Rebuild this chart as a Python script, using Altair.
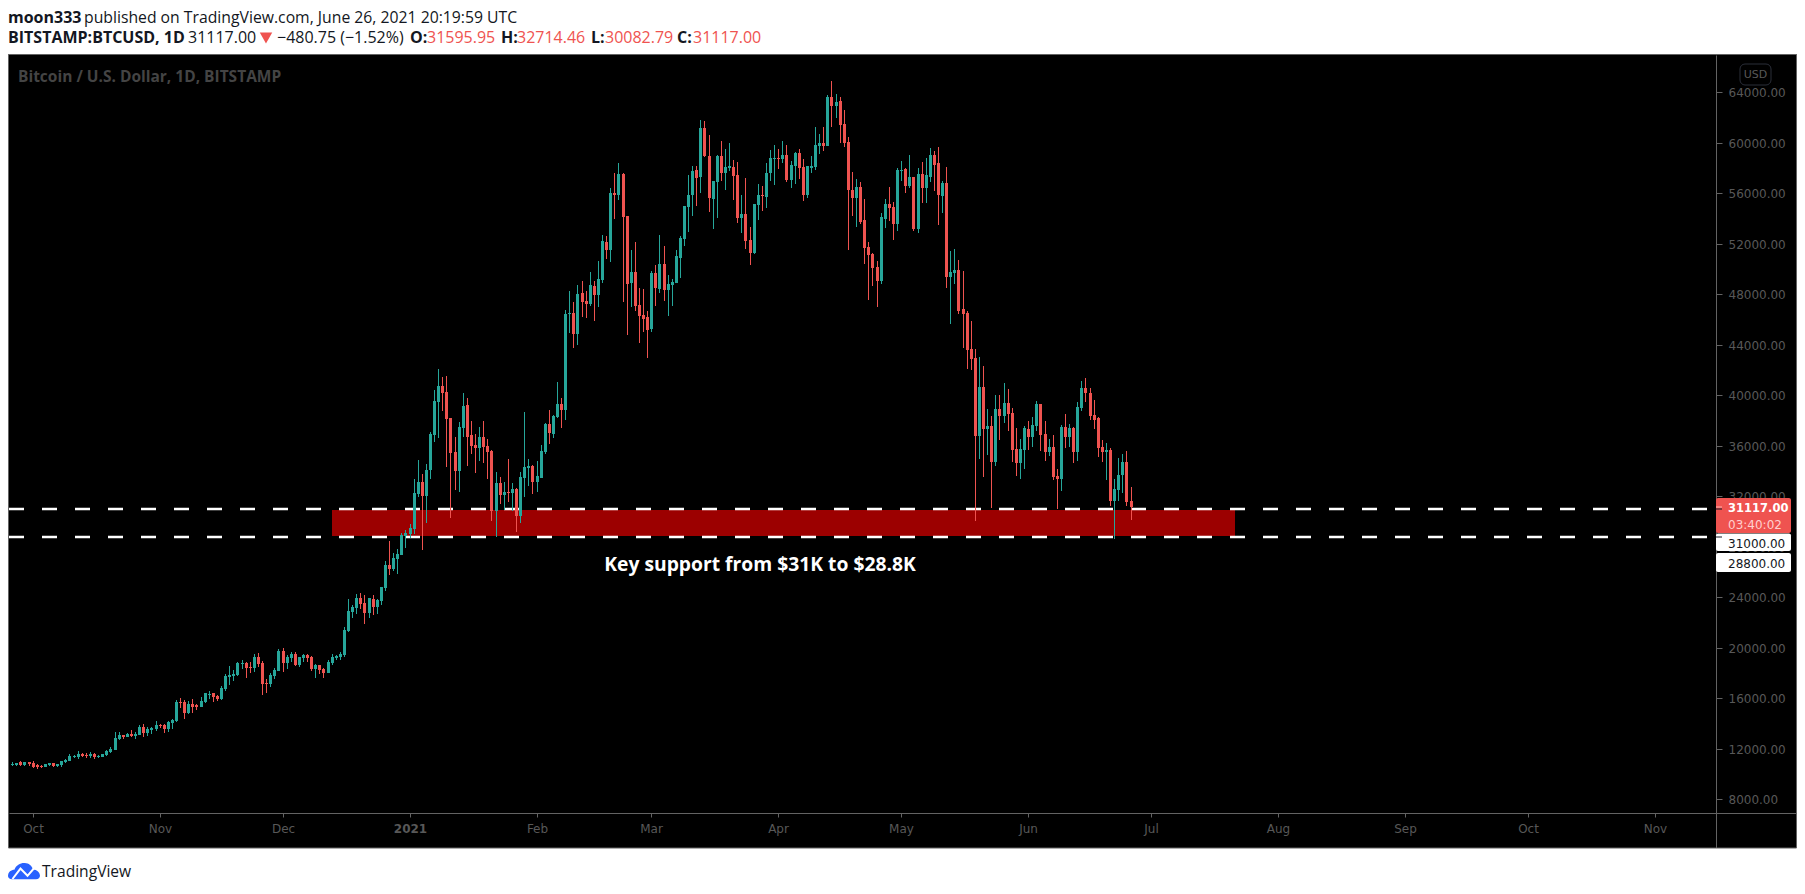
import altair as alt
import pandas as pd

# ---------- chart values ----------
opens = [10690,
 10730,10700,10910,10730,10940,10860,10700,10620,10540,10700,
 10830,10620,10700,10940,11010,11330,11330,11570,11490,11410,
 11570,11330,11330,11490,11730,11890,12760,13070,12920,13150,
 12990,13070,13710,13230,13470,13550,13870,13870,13550,14030,
 14180,15690,15690,14820,15530,15450,15290,15690,16240,16400,
 16160,15930,16720,17670,17750,17830,18700,18780,18460,18380,
 19250,18780,17200,17120,17750,18150,19730,18780,19180,19490,
 18620,19180,19410,19250,18300,18620,18300,17990,18780,19180,
 19250,19410,21310,22820,23140,23930,23530,22740,23850,23220,
 23690,24720,26550,26230,27020,27340,28840,29000,29400,32170,
 33120,32010,34070,36850,39460,40730,40250,38190,35500,33990,
 37400,39220,36850,36050,35820,36690,35970,35580,30820,33040,
 32090,32330,32250,32570,30430,33440,34230,34390,33120,33440,
 35500,37720,36920,38270,39300,38830,46430,46510,44850,48100,
 47470,47230,48650,47940,49130,52140,51510,56020,55860,57530,
 54200,48890,49760,47150,46360,46200,45250,49680,48410,50400,
 48340,48730,48890,50870,52380,54910,55860,57840,57290,61170,
 58950,55550,56890,58950,57610,58000,58080,57450,54040,54360,
 52300,51270,55070,55860,55700,57610,58720,58800,58720,59030,
 57050,58160,59190,58080,55860,58000,58080,59750,59980,59750,
 63630,62910,63310,61490,60060,56260,55630,56500,53880,51740,
 51190,50160,49050,53960,55150,54910,53570,57770,57920,56580,
 57290,53170,57530,56420,57290,59030,58400,55780,56810,49370,
 49680,49920,46830,46510,43660,42950,36770,40650,37320,37560,
 34710,38910,38350,39380,38590,35740,34630,35660,37320,36690,
 37560,39300,36920,35500,35890,33600,33360,37480,36690,37400,
 35500,38980,40570,40170,38430,38190,35890,35500,35660,31620,
 32490,33680,34710,31596]
closes = [10730,
 10780,10830,10730,10940,10780,10570,10510,10570,10750,10830,
 10620,10750,11010,11090,11410,11410,11570,11410,11410,11570,
 11330,11410,11570,11810,11960,12840,13070,12920,13150,12990,
 13150,13710,13230,13550,13630,13870,13790,13550,14100,14260,
 15690,15640,14820,15530,15290,15290,15770,16400,16300,16090,
 15930,16800,17750,17830,17910,18780,18780,18380,18380,19250,
 18700,17120,17120,17830,18220,19730,18780,19250,19490,18620,
 19250,19410,19180,18300,18620,18220,17990,18860,19250,19330,
 19490,21390,22900,23220,23930,23450,22740,23930,23220,23770,
 24800,26540,26230,27070,27390,28920,29080,29480,32250,33120,
 32010,34070,36920,39540,40730,40170,38110,35420,33990,37480,
 39140,36690,35970,35820,36690,35890,35500,30820,33040,32090,
 32330,32250,32570,30430,33520,34310,34390,33120,33600,35580,
 37720,37000,38350,39300,38830,46440,46510,44850,48020,47380,
 47230,48730,47940,49210,52220,51510,56020,55860,57530,54120,
 48810,49760,47070,46280,46040,45170,49680,48490,50400,48340,
 48810,48970,51030,52460,54990,55860,57760,57210,61170,58950,
 55630,56970,58950,57610,58080,58160,57370,54040,54360,52220,
 51270,55150,55860,55780,57610,58800,58800,58720,59030,57050,
 58240,59190,58000,55860,58160,58160,59820,59980,59750,63630,
 62910,63230,61410,59980,56260,55630,56500,53720,51660,51110,
 50080,49050,54120,55150,54830,53570,57840,57840,56580,57290,
 53170,57530,56420,57450,59030,58240,55870,56810,49370,49760,
 49920,46670,46430,43580,42870,36770,40650,37320,37560,34710,
 38910,38350,39380,38510,35660,34630,35740,37400,36690,37640,
 39300,36850,35500,35890,33520,33360,37480,36690,37400,35500,
 39060,40570,40170,38350,38030,35820,35500,35660,31620,32570,
 33680,34710,31540,31117]
highs = [10780,
 10940,10860,11010,10940,10940,11010,10780,10700,10780,10860,
 10860,10780,11010,11170,11540,11490,11810,11650,11650,11730,
 11650,11490,11570,11890,12120,13310,13310,13070,13230,13470,
 13310,13870,13950,13710,13710,14180,13950,13950,14180,14340,
 15850,16010,15850,15770,15930,15530,16090,16400,16560,16400,
 16240,16960,17910,18540,18220,18860,19020,18860,18860,19490,
 19570,18940,17510,17990,18380,19890,19970,19410,19650,19650,
 19250,19490,19490,19330,18700,18620,18380,19020,19490,19410,
 19650,21630,23850,23370,24250,24330,24170,23930,24170,23850,
 24800,26860,28450,27470,27810,29080,29320,29790,33360,34860,
 33760,34550,37080,40410,42070,41440,41520,38190,36690,37870,
 40170,39780,37950,36920,37480,37950,36530,35660,33910,33520,
 33120,34940,33040,32650,33910,38670,34940,34470,34790,36050,
 37800,38830,38430,41040,39780,46750,48260,47380,48730,49050,
 48260,49760,49050,50630,52690,52620,56420,57610,58400,57610,
 54200,51510,52140,48490,48410,46670,49840,50320,52690,51820,
 49520,49210,51510,52600,54990,57450,58160,58160,61810,61730,
 60620,56970,59030,60140,59510,59980,58640,58480,55860,57210,
 53330,55150,56740,56580,58400,59430,59820,59510,60140,59820,
 58560,59270,59510,58720,58160,58950,61250,60700,61250,63790,
 64900,63870,63630,62600,60460,57690,57130,56890,55550,52140,
 51270,50630,54440,55550,56500,55310,58000,58560,58000,59030,
 57290,58000,58480,58790,59590,59350,59670,56970,58080,51430,
 51580,50710,49840,46670,45880,43660,43030,42310,38910,38350,
 40010,40010,40970,40490,38980,37400,36530,37560,37950,38270,
 39540,39300,37950,36530,36850,34150,37640,38510,37720,37480,
 39460,41120,41360,40570,39620,38270,36450,36210,35820,33360,
 35020,35340,35580,32714]
lows = [10620,
 10620,10620,10620,10620,10620,10460,10410,10460,10540,10620,
 10540,10540,10540,10860,11010,11250,11170,11330,11250,11250,
 11170,11250,11330,11410,11650,11890,12680,12760,12920,12920,
 12760,13070,12920,12990,13150,13390,13630,13230,13310,13550,
 14100,15210,14340,14740,14820,15060,15290,15610,15930,15690,
 15770,15850,16560,17040,17350,17750,18300,17590,17990,18070,
 18460,16240,16400,16880,17490,18150,18070,18300,18860,18540,
 18460,18860,18860,18150,17590,17910,17590,17990,18620,19020,
 19020,19250,21240,22340,22660,23060,21870,22340,22580,22660,
 23370,24480,25750,26070,25830,27340,27890,28680,29000,31930,
 27740,29870,33360,36290,36610,38750,34310,30270,32490,32330,
 36690,34390,35340,33830,34790,34630,33360,30030,28760,31380,
 30900,31500,30820,29160,29870,31930,32800,32170,32330,33440,
 35340,36130,36610,38190,37400,38030,44930,43740,43980,46200,
 46120,47070,45880,46990,48890,50790,50550,53960,55470,47380,
 44770,46990,46670,44140,45010,42950,45010,47070,48100,47470,
 46280,47070,48890,49290,51820,52930,54200,54990,56020,58870,
 54520,53170,54040,56970,56260,57760,55470,53650,52850,51590,
 50320,51190,53880,54600,54830,56970,56660,57920,58400,56890,
 56420,56740,57130,55390,55630,57610,57840,59110,59350,59750,
 61250,61960,59980,59670,51510,54200,53330,53570,50400,47550,
 48650,46990,48810,53250,53800,52300,53010,56970,56020,56420,
 53010,52850,55230,55230,56890,56180,53490,54440,48500,45640,
 48810,46430,43740,42080,41990,30030,34940,33520,35260,31060,
 34390,36450,37800,37160,34710,33600,33360,34150,35660,35890,
 37160,35580,34790,35180,33280,30980,32410,35820,35890,34630,
 34790,38750,39460,38030,37320,35100,34710,33280,31220,28610,
 31620,32250,31220,30083]
first_day = -6  # days counted from 1 Oct 2020
price_ticks = [8000 + 4000 * i for i in range(15)]
month_days = [0, 31, 61, 92, 123, 151, 182, 212, 243, 273, 304, 335, 365, 396]
month_labels = ["Oct", "Nov", "Dec", "2021", "Feb", "Mar", "Apr", "May", "Jun", "Jul", "Aug", "Sep", "Oct", "Nov"]
support_levels = [31000, 28800]
band = dict(day=73.0, day2=293.6, top=30900, bottom=28850)

# ---------- palette ----------
GREEN, RED = "#26a69a", "#ef5350"
AXIS_GRAY, LABEL_GRAY = "#636363", "#585858"
FONT, AXFONT = "Open Sans", "DejaVu Sans"

W, H = 1707, 758
xs = alt.Scale(domain=[-5.76, 410.9], range=[0, W], round=True, nice=False, zero=False)
ys = alt.Scale(domain=[6892, 66956], range=[H, 0], round=True, nice=False, zero=False)

label_expr = "{" + ",".join(f"'{d}':'{l}'" for d, l in zip(month_days, month_labels)) + "}[''+datum.value]"
x_axis = alt.Axis(values=month_days, labelExpr=label_expr, title=None, grid=False, domainColor=AXIS_GRAY,
                  tickColor=AXIS_GRAY, tickSize=4, labelColor=LABEL_GRAY, labelFont=AXFONT, labelFontSize=12,
                  labelPadding=6, labelFontWeight=alt.expr("datum.value==92?'bold':'normal'"), labelOverlap=False)
y_axis = alt.Axis(orient="right", values=price_ticks, format=".2f", title=None, grid=False, domainColor=AXIS_GRAY,
                  tickColor=AXIS_GRAY, tickSize=6, labelColor=LABEL_GRAY, labelFont=AXFONT, labelFontSize=12,
                  labelPadding=6, labelOverlap=False)
X = lambda f: alt.X(f, type="quantitative", scale=xs, axis=x_axis)
Y = lambda f: alt.Y(f, type="quantitative", scale=ys, axis=y_axis)

candles = pd.DataFrame({"open": opens, "high": highs, "low": lows, "close": closes})
candles["day"] = range(first_day, first_day + len(candles))
colour = alt.condition("datum.close >= datum.open", alt.value(GREEN), alt.value(RED))

one = pd.DataFrame({"a": [0]})


def txt(text, x, y, size=16, color="#131722", weight="normal", font=FONT, align="left"):
    return alt.Chart(one).mark_text(text=text, fontSize=size, color=color, fontWeight=weight, font=font,
                                    align=align, baseline="middle").encode(x=alt.value(x), y=alt.value(y))


def box(x, x2, y, y2, fill, **kw):
    return alt.Chart(one).mark_rect(fill=fill, **kw).encode(x=alt.value(x), x2=alt.value(x2), y=alt.value(y), y2=alt.value(y2))


layers = []
# support band
layers.append(alt.Chart(pd.DataFrame([band])).mark_rect(fill="#9c0000").encode(
    x=X("day"), x2=alt.X2("day2"), y=Y("top"), y2=alt.Y2("bottom")))
# dashed levels
layers.append(alt.Chart(pd.DataFrame({"p": support_levels})).mark_rule(color="#ffffff", strokeWidth=2.5, strokeDash=[15, 18]).encode(
    y=Y("p"), x=alt.value(0), x2=alt.value(W)))
# candles
layers.append(alt.Chart(candles).mark_rule(strokeWidth=1, xOffset=0.5, clip=True).encode(
    x=X("day"), y=Y("high"), y2=alt.Y2("low"), color=colour))
layers.append(alt.Chart(candles).mark_rule(strokeWidth=3, xOffset=0.5, clip=True).encode(
    x=X("day"), y=Y("open"), y2=alt.Y2("close"), color=colour))
# annotation
layers.append(alt.Chart(pd.DataFrame({"day": [177.6], "p": [26520]})).mark_text(
    text="Key support from $31K to $28.8K", color="#ffffff", fontSize=19.3, fontWeight="bold", font=FONT,
    align="center", baseline="middle").encode(x=X("day"), y=Y("p")))
# watermark
layers.append(txt("Bitcoin / U.S. Dollar, 1D, BITSTAMP", 9, 22, size=15.5, color="#444444", weight="bold"))
# axis lines running on to the frame
layers.append(alt.Chart(one).mark_rule(color=AXIS_GRAY).encode(
    x=alt.value(W), x2=alt.value(1787), y=alt.value(H + 0.5)))
layers.append(alt.Chart(one).mark_rule(color=AXIS_GRAY).encode(
    x=alt.value(W + 0.5), y=alt.value(H), y2=alt.value(793)))
# currency tag
layers.append(box(1731, 1762, 9, 30, "#000000", stroke="#2a2e39", strokeWidth=1, cornerRadius=5))
layers.append(txt("USD", 1746.5, 19.5, size=11, color=LABEL_GRAY, font=AXFONT, align="center"))
# price tags
layers.append(box(W, 1782, 443, 478, RED, cornerRadius=2))
layers.append(box(W, 1782, 478.5, 496, "#ffffff", cornerRadius=2))
layers.append(box(W, 1782, 498, 517, "#ffffff", cornerRadius=2))
layers.append(alt.Chart(pd.DataFrame({"p": [31117]})).mark_rule(color="#ffb3b0").encode(y=Y("p"), x=alt.value(W), x2=alt.value(W + 6)))
layers.append(alt.Chart(pd.DataFrame({"p": support_levels})).mark_rule(color="#131722").encode(y=Y("p"), x=alt.value(W), x2=alt.value(W + 6)))
layers.append(txt("31117.00", 1719, 453.5, size=11.5, color="#ffffff", weight="bold", font=AXFONT))
layers.append(txt("03:40:02", 1719, 470, size=12, color="#ffd0ce", font=AXFONT))
layers.append(txt("31000.00", 1719, 489, size=12, color="#131722", font=AXFONT))
layers.append(txt("28800.00", 1719, 509, size=12, color="#131722", font=AXFONT))
# white page areas
layers.append(box(-1, 1788, -47, -0.5, "#ffffff"))
layers.append(box(-1, 1788, 793, 831, "#ffffff"))
# frame
layers.append(alt.Chart(one).mark_rect(fillOpacity=0, fill="#000000", stroke=AXIS_GRAY, strokeWidth=1).encode(
    x=alt.value(-0.5), x2=alt.value(1787.5), y=alt.value(-0.5), y2=alt.value(793)))
# header
layers.append(txt("moon333", -1, -37.5, weight="bold"))
layers.append(txt("published on TradingView.com, June 26, 2021 20:19:59 UTC", 75, -37.5, size=15.75))
layers.append(txt("BITSTAMP:BTCUSD, 1D", -1, -17, weight="bold"))
layers.append(txt("31117.00", 179, -17))
layers.append(alt.Chart(one).mark_point(shape="triangle-down", filled=True, size=155, color=RED, opacity=1).encode(
    x=alt.value(257), y=alt.value(-17)))
layers.append(txt("\u2212480.75 (\u22121.52%)", 268, -17))
for lab, lx, val, vx in [("O:", 401, "31595.95", 418), ("H:", 492, "32714.46", 508),
                         ("L:", 582, "30082.79", 596), ("C:", 668, "31117.00", 684)]:
    layers.append(txt(lab, lx, -17, weight="bold"))
    layers.append(txt(val, vx, -17, color=RED))
# footer logo
cloud = ("M-1,0.32 C-1,0.05 -0.8,-0.08 -0.6,-0.08 C-0.5,-0.38 -0.2,-0.52 0.05,-0.5 C0.3,-0.5 0.5,-0.32 0.56,-0.1 "
         "C0.82,-0.1 1,0.1 1,0.3 C1,0.42 0.9,0.52 0.75,0.52 L-0.75,0.52 C-0.9,0.52 -1,0.44 -1,0.32 Z")
zig = "M-0.72,0.5 L-0.22,-0.15 L0.22,0.3 L0.72,-0.28"
layers.append(alt.Chart(one).mark_point(shape=cloud, filled=True, size=1024, color="#2962ff", opacity=1).encode(
    x=alt.value(15), y=alt.value(816)))
layers.append(alt.Chart(one).mark_point(shape=zig, filled=False, size=1024, color="#ffffff", strokeWidth=2, opacity=1).encode(
    x=alt.value(15), y=alt.value(816)))
layers.append(txt("TradingView", 33, 817, size=15.6, color="#131722"))

chart = alt.layer(*layers).properties(
    width=W, height=H,
    padding={"left": 1, "top": 47, "right": 81, "bottom": 73},
    autosize=alt.AutoSizeParams(type="none"),
    background="#000000",
).configure_view(stroke=None)

chart.save("out.html", embed_options={"renderer": "svg", "actions": False})
